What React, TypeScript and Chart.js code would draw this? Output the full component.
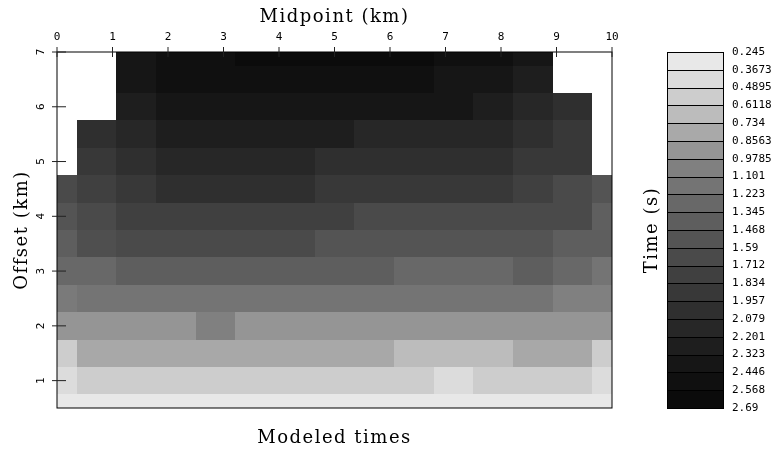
import React, { useEffect, useRef } from "react";
import { Chart, registerables } from "chart.js";
Chart.register(...registerables);

// Column centres (Midpoint, km) and row centres (Offset, km)
const midpointsKm = [0, 0.714, 1.429, 2.143, 2.857, 3.571, 4.286, 5.0, 5.714, 6.429, 7.143, 7.857, 8.571, 9.286, 10];
const offsetsKm = [0.5, 1.0, 1.5, 2.0, 2.5, 3.0, 3.5, 4.0, 4.5, 5.0, 5.5, 6.0, 6.5, 7.0];

const N = null;
// Modeled times (s), one array per offset row, one value per midpoint column
const timesOff05 = [0.31, 0.31, 0.31, 0.31, 0.31, 0.31, 0.31, 0.31, 0.31, 0.31, 0.31, 0.31, 0.31, 0.31, 0.31];
const timesOff10 = [0.43, 0.55, 0.55, 0.55, 0.55, 0.55, 0.55, 0.55, 0.55, 0.55, 0.43, 0.55, 0.55, 0.55, 0.43];
const timesOff15 = [0.55, 0.8, 0.8, 0.8, 0.8, 0.8, 0.8, 0.8, 0.8, 0.67, 0.67, 0.67, 0.8, 0.8, 0.55];
const timesOff20 = [0.92, 0.92, 0.92, 0.92, 1.04, 0.92, 0.92, 0.92, 0.92, 0.92, 0.92, 0.92, 0.92, 0.92, 0.92];
const timesOff25 = [1.1, 1.16, 1.16, 1.16, 1.16, 1.16, 1.16, 1.16, 1.16, 1.16, 1.16, 1.16, 1.16, 1.04, 1.04];
const timesOff30 = [1.28, 1.28, 1.41, 1.41, 1.41, 1.41, 1.41, 1.41, 1.41, 1.28, 1.28, 1.28, 1.41, 1.28, 1.16];
const timesOff35 = [1.41, 1.59, 1.65, 1.65, 1.65, 1.65, 1.65, 1.53, 1.53, 1.53, 1.53, 1.53, 1.53, 1.41, 1.41];
const timesOff40 = [1.53, 1.65, 1.77, 1.77, 1.77, 1.77, 1.77, 1.77, 1.65, 1.65, 1.65, 1.65, 1.65, 1.65, 1.39];
const timesOff45 = [1.65, 1.77, 1.9, 2.02, 2.02, 2.02, 2.02, 1.9, 1.9, 1.9, 1.9, 1.9, 1.77, 1.65, 1.53];
const timesOff50 = [N, 1.9, 2.02, 2.14, 2.14, 2.14, 2.14, 2.02, 2.02, 2.02, 2.02, 2.02, 1.9, 1.9, N];
const timesOff55 = [N, 2.02, 2.14, 2.26, 2.26, 2.26, 2.26, 2.26, 2.14, 2.14, 2.14, 2.14, 2.02, 1.9, N];
const timesOff60 = [N, N, 2.26, 2.38, 2.38, 2.38, 2.38, 2.38, 2.38, 2.38, 2.38, 2.26, 2.14, 2.02, N];
const timesOff65 = [N, N, 2.38, 2.51, 2.51, 2.51, 2.51, 2.51, 2.51, 2.51, 2.38, 2.38, 2.26, N, N];
const timesOff70 = [N, N, 2.38, 2.51, 2.51, 2.63, 2.63, 2.63, 2.63, 2.63, 2.51, 2.51, 2.38, N, N];

const timeRows = [
  timesOff05, timesOff10, timesOff15, timesOff20, timesOff25, timesOff30, timesOff35,
  timesOff40, timesOff45, timesOff50, timesOff55, timesOff60, timesOff65, timesOff70,
];

const xTickLabels = [0, 1, 2, 3, 4, 5, 6, 7, 8, 9, 10];
const yTickLabels = [1, 2, 3, 4, 5, 6, 7];
const colorbarTicks = [
  "0.245", "0.3673", "0.4895", "0.6118", "0.734", "0.8563", "0.9785", "1.101", "1.223", "1.345",
  "1.468", "1.59", "1.712", "1.834", "1.957", "2.079", "2.201", "2.323", "2.446", "2.568", "2.69",
];
// grey level of each colour-bar band (light to dark)
const bandGreys = [232, 220, 205, 188, 169, 149, 128, 116, 104, 94, 84, 74, 64, 56, 47, 39, 30, 22, 16, 11];

const T_MIN = parseFloat(colorbarTicks[0]);
const T_MAX = parseFloat(colorbarTicks[colorbarTicks.length - 1]);

function greyFor(t: number): string {
  const nb = bandGreys.length;
  let f = ((t - T_MIN) / (T_MAX - T_MIN)) * nb - 0.5;
  f = Math.max(0, Math.min(nb - 1, f));
  const i = Math.min(nb - 2, Math.floor(f));
  const fr = f - i;
  const g = Math.round(bandGreys[i] * (1 - fr) + bandGreys[i + 1] * fr);
  return `rgb(${g},${g},${g})`;
}

function bounds(arr: number[], i: number): [number, number] {
  const lo = i > 0 ? (arr[i - 1] + arr[i]) / 2 : arr[i] - (arr[1] - arr[0]) / 2;
  const hi = i < arr.length - 1 ? (arr[i] + arr[i + 1]) / 2 : arr[i] + (arr[i] - arr[i - 1]) / 2;
  return [lo, hi];
}

type Cell = { x: number; y: number; t: number; x0: number; x1: number; y0: number; y1: number };
function buildCells(): Cell[] {
  const cells: Cell[] = [];
  timeRows.forEach((row, r) => {
    const [y0, y1] = bounds(offsetsKm, r);
    row.forEach((t, c) => {
      if (t == null) return;
      const [x0, x1] = bounds(midpointsKm, c);
      cells.push({ x: midpointsKm[c], y: offsetsKm[r], t, x0, x1, y0, y1 });
    });
  });
  return cells;
}

const TITLE_FONT = '18px "DejaVu Serif", serif';
const TICK_FONT = '11px "DejaVu Sans Mono", monospace';

const heatPlugin = {
  id: "heatmapCells",
  beforeDatasetsDraw(chart: any) {
    const { ctx, chartArea: a, scales } = chart;
    const xs = scales.x;
    const ys = scales.y;
    const cells: Cell[] = chart.data.datasets[0].data;
    ctx.save();
    ctx.beginPath();
    ctx.rect(a.left, a.top, a.right - a.left, a.bottom - a.top);
    ctx.clip();
    for (const c of cells) {
      const px0 = Math.round(xs.getPixelForValue(c.x0));
      const px1 = Math.round(xs.getPixelForValue(c.x1));
      const py0 = Math.round(ys.getPixelForValue(c.y1));
      const py1 = Math.round(ys.getPixelForValue(c.y0));
      ctx.fillStyle = greyFor(c.t);
      ctx.fillRect(px0, py0, px1 - px0, py1 - py0);
    }
    ctx.restore();
  },
  afterDraw(chart: any) {
    const { ctx, chartArea: a, scales } = chart;
    const xs = scales.x;
    const ys = scales.y;
    const cb = scales.cb;
    ctx.save();
    // frame
    ctx.strokeStyle = "#000";
    ctx.lineWidth = 1;
    ctx.strokeRect(a.left, a.top, a.right - a.left, a.bottom - a.top);

    // x ticks (top)
    ctx.fillStyle = "#000";
    ctx.font = TICK_FONT;
    ctx.textAlign = "center";
    ctx.textBaseline = "middle";
    ctx.strokeStyle = "#222";
    for (const v of xTickLabels) {
      const px = xs.getPixelForValue(v);
      ctx.beginPath();
      ctx.moveTo(px, a.top - 5);
      ctx.lineTo(px, a.top + 5);
      ctx.stroke();
      ctx.fillText(String(v), px, a.top - 15);
    }
    // y ticks (left), labels rotated
    for (const v of yTickLabels) {
      const py = ys.getPixelForValue(v);
      ctx.beginPath();
      ctx.moveTo(a.left - 5, py);
      ctx.lineTo(a.left + 9, py);
      ctx.stroke();
      ctx.save();
      ctx.translate(a.left - 16, py);
      ctx.rotate(-Math.PI / 2);
      ctx.fillText(String(v), 0, 0);
      ctx.restore();
    }

    // titles
    ctx.font = TITLE_FONT;
    (ctx as any).letterSpacing = "1.5px";
    const cx = (a.left + a.right) / 2;
    const cy = (a.top + a.bottom) / 2;
    ctx.fillText("Midpoint (km)", cx, 17);
    ctx.fillText("Modeled times", cx, 438);
    ctx.save();
    ctx.translate(22, cy);
    ctx.rotate(-Math.PI / 2);
    ctx.fillText("Offset (km)", 0, 0);
    ctx.restore();
    ctx.save();
    ctx.translate(a.right + 40, cy);
    ctx.rotate(-Math.PI / 2);
    ctx.fillText("Time (s)", 0, 0);
    ctx.restore();
    (ctx as any).letterSpacing = "0px";

    // colour bar
    const bx0 = a.right + 55;
    const bx1 = a.right + 111;
    for (let k = 0; k < bandGreys.length; k++) {
      const tLo = parseFloat(colorbarTicks[k]);
      const tHi = parseFloat(colorbarTicks[k + 1]);
      const y0 = Math.round(cb.getPixelForValue(tLo));
      const y1 = Math.round(cb.getPixelForValue(tHi));
      const g = bandGreys[k];
      ctx.fillStyle = `rgb(${g},${g},${g})`;
      ctx.fillRect(bx0, y0, bx1 - bx0, y1 - y0);
    }
    ctx.strokeStyle = "#000";
    ctx.lineWidth = 1;
    for (let k = 1; k < colorbarTicks.length - 1; k++) {
      const y = Math.round(cb.getPixelForValue(parseFloat(colorbarTicks[k]))) + 0.5;
      ctx.beginPath();
      ctx.moveTo(bx0, y);
      ctx.lineTo(bx1, y);
      ctx.stroke();
    }
    const yt = Math.round(cb.getPixelForValue(T_MIN)) + 0.5;
    const yb = Math.round(cb.getPixelForValue(T_MAX)) + 0.5;
    ctx.strokeRect(bx0 + 0.5, yt, bx1 - bx0, yb - yt);

    ctx.fillStyle = "#000";
    ctx.font = TICK_FONT;
    ctx.textAlign = "left";
    ctx.textBaseline = "middle";
    for (const lab of colorbarTicks) {
      const py = cb.getPixelForValue(parseFloat(lab));
      ctx.fillText(lab, a.right + 120, py);
    }
    ctx.restore();
  },
};

export default function App() {
  const ref = useRef<HTMLCanvasElement | null>(null);
  useEffect(() => {
    if (!ref.current) return;
    const chart = new Chart(ref.current, {
      type: "scatter",
      data: {
        datasets: [{ data: buildCells() as any, pointRadius: 0, pointHoverRadius: 0 }],
      },
      options: {
        animation: false,
        responsive: false,
        events: [],
        layout: { padding: { left: 57, right: 168, top: 52, bottom: 42 } },
        plugins: { legend: { display: false }, tooltip: { enabled: false } },
        scales: {
          x: { type: "linear", position: "top", min: 0, max: 10, display: false },
          y: { type: "linear", min: 0.5, max: 7, display: false },
          cb: { type: "linear", axis: "y", position: "right", min: T_MIN, max: T_MAX, reverse: true, display: false },
        },
      },
      plugins: [heatPlugin],
    });
    return () => chart.destroy();
  }, []);
  return (
    <div style={{ position: "fixed", left: 0, top: 0, width: 780, height: 450, background: "#fff" }}>
      <canvas ref={ref} width={780} height={450} />
    </div>
  );
}
